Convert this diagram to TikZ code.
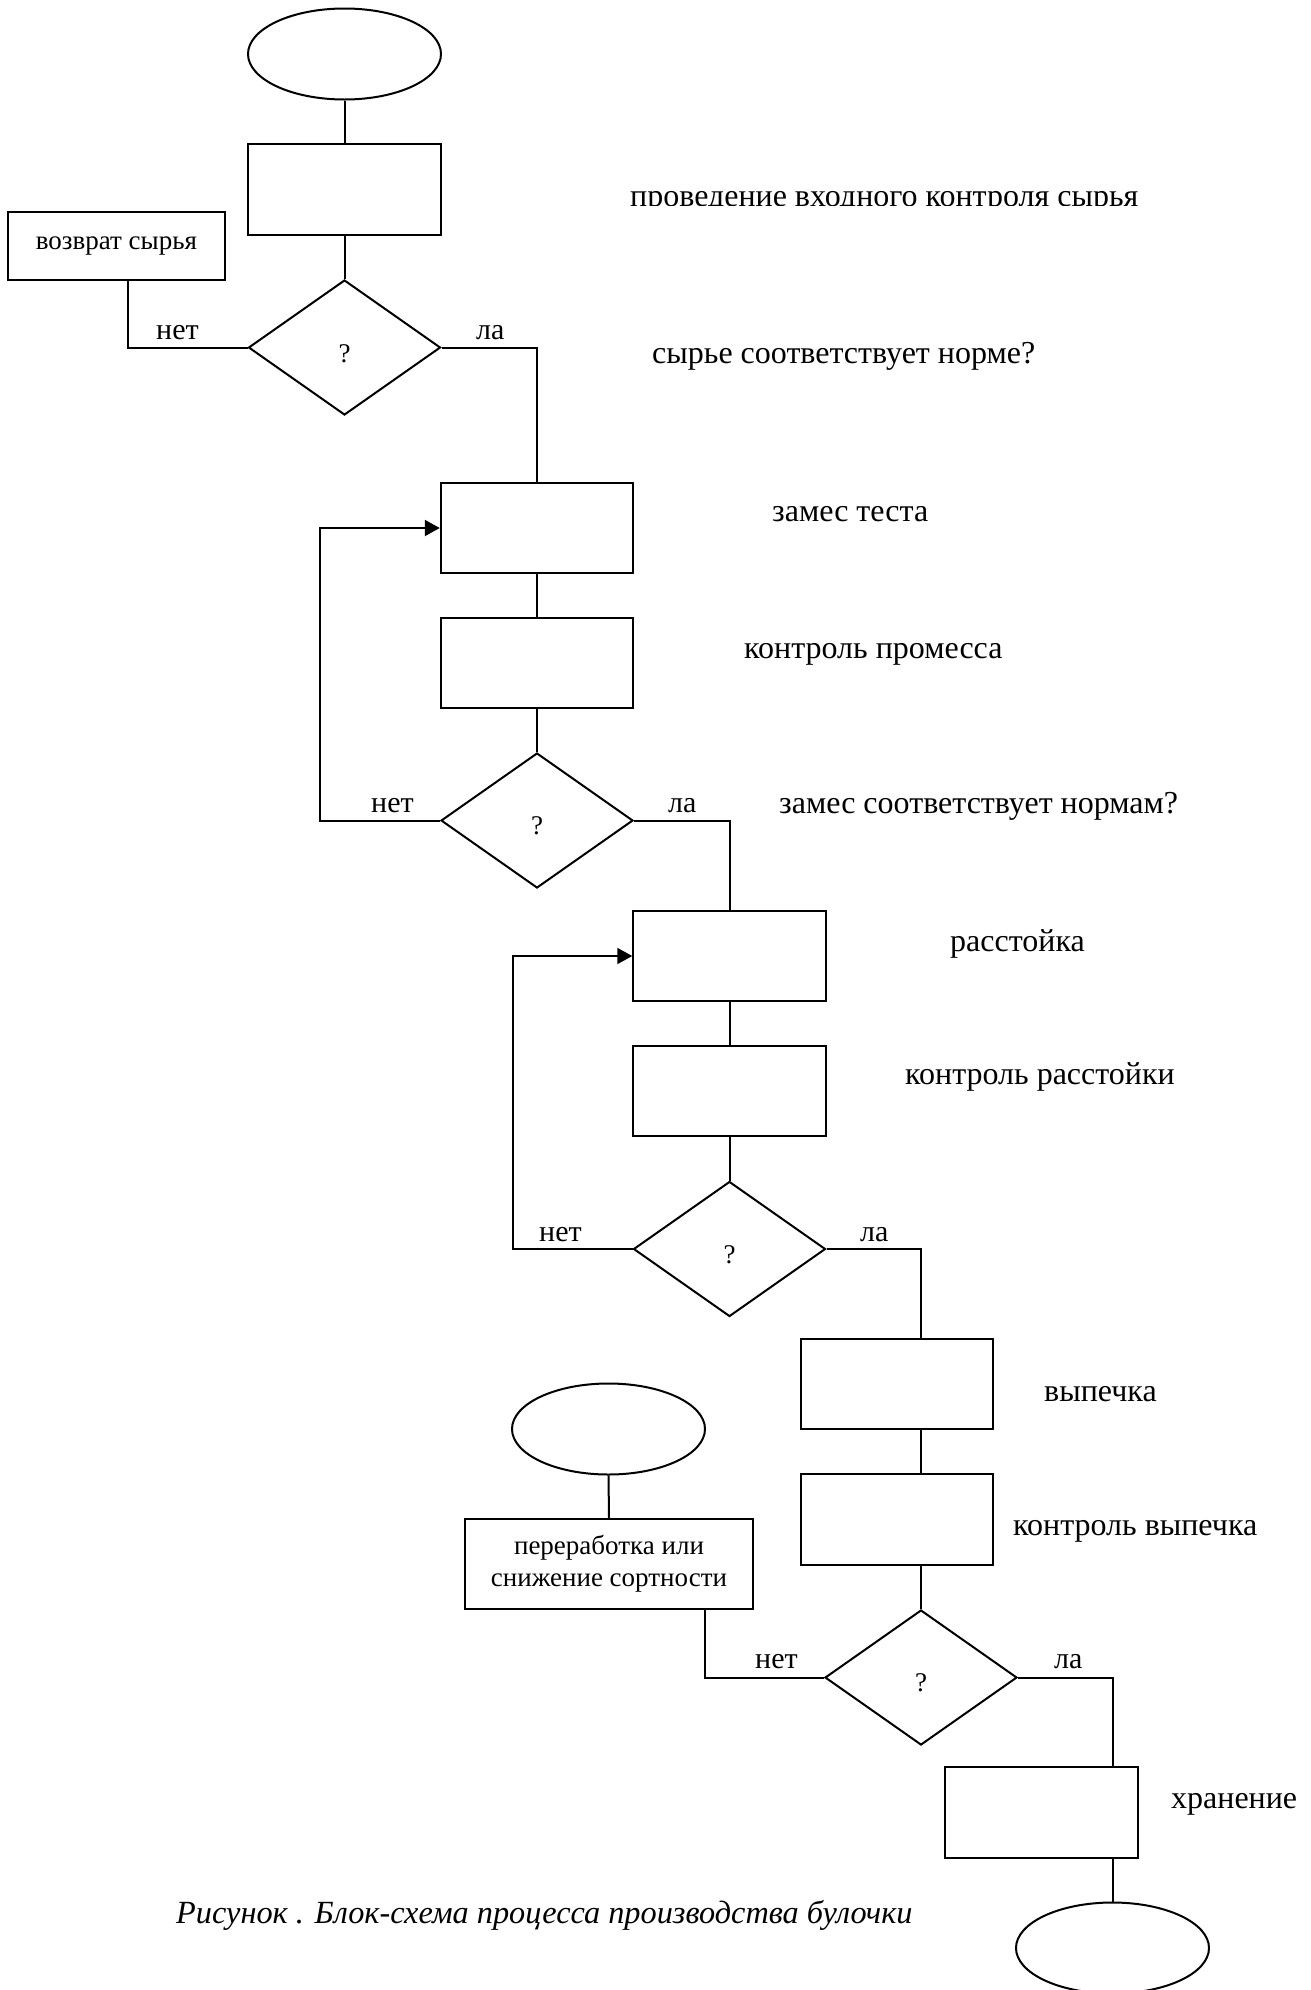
\documentclass[tikz,border=0pt]{standalone}
\usepackage{fontspec}
\setmainfont{Liberation Serif}
\usetikzlibrary{shapes.geometric,arrows.meta}
\begin{document}
\begin{tikzpicture}[x=1pt,y=-1pt,
  ln/.style={line width=2pt},
  box/.style={draw,line width=2pt,rectangle,minimum width=192.5pt,minimum height=90.5pt,inner sep=0pt},
  dia/.style={draw,line width=2pt,diamond,minimum width=192pt,minimum height=135pt,inner sep=0pt},
  term/.style={draw,line width=2pt,ellipse,minimum width=193pt,minimum height=91pt,inner sep=0pt},
  lbl/.style={anchor=base west,inner sep=0pt,font=\fontsize{32}{36}\selectfont},
  intext/.style={font=\fontsize{27}{32}\selectfont,align=center},
  yn/.style={anchor=base west,inner sep=0pt,font=\fontsize{30}{34}\selectfont},
  qm/.style={anchor=base,inner sep=0pt,font=\fontsize{27}{30}\selectfont},
  arr/.style={-{Triangle[length=15pt,width=16pt]}}
]
\fill[white] (0,0) rectangle (1311,1990);
\useasboundingbox (0,0) rectangle (1311,1990);

% ---- nodes ----
\node[term] (e1) at (344.5,54) {};
\node[box] (r1) at (344.5,189.5) {};
\node[box,minimum width=217pt,minimum height=68pt,intext] (r0) at (116.5,246) {возврат сырья};
\node[dia] (d1) at (344.5,347.5) {};
\node[qm] (q1) at (344.5,362) {?};

\node[box] (r3) at (537,528) {};
\node[box] (r4) at (537,663) {};
\node[dia] (d2) at (537,820.5) {};
\node[qm] (q2) at (537,834) {?};

\node[box] (r5) at (729.5,956) {};
\node[box] (r6) at (729.5,1091) {};
\node[dia] (d3) at (729.5,1249) {};
\node[qm] (q3) at (729.5,1263) {?};

\node[box] (r7) at (897,1384) {};
\node[box] (r8) at (897,1519.5) {};
\node[dia] (d4) at (921,1677.5) {};
\node[qm] (q4) at (921,1691) {?};

\node[term] (e2) at (608.5,1429) {};
\node[box,minimum width=288pt,minimum height=90pt,intext] (r9) at (609,1564) {переработка или\\снижение сортности};

\node[box] (r10) at (1041.5,1812.5) {};
\node[term] (e3) at (1112.5,1948) {};

\coordinate (x128) at (128,0);
\coordinate (x705) at (705,0);

% ---- side labels ----
\begin{scope}
\clip (0,0) rectangle (1311,205);
\node[lbl] (t1) at (630,206.5) {проведение входного контроля сырья};
\end{scope}
\node[lbl] (t2) at (652,363) {сырье соответствует норме?};
\node[lbl] (t3) at (772,521) {замес теста};
\node[lbl] (t4) at (744,658) {контроль промесса};
\node[lbl] (t5) at (779,813) {замес соответствует нормам?};
\node[lbl] (t6) at (950,951) {расстойка};
\node[lbl] (t7) at (905,1084) {контроль расстойки};
\node[lbl] (t8) at (1044,1401) {выпечка};
\node[lbl] (t9) at (1013,1535) {контроль выпечка};
\node[lbl] (t10) at (1171,1808) {хранение};
\node[lbl,font=\fontsize{32.3}{36}\selectfont\itshape] (cap) at (176,1923) {Рисунок . Блок-схема процесса производства булочки};

% ---- yes / no labels ----
\node[yn] (n1) at (156,339) {нет};
\node[yn] (y1) at (476,339) {ла};
\node[yn] (n2) at (371,812) {нет};
\node[yn] (y2) at (668,812) {ла};
\node[yn] (n3) at (539,1241) {нет};
\node[yn] (y3) at (860,1241) {ла};
\node[yn] (n4) at (755,1668) {нет};
\node[yn] (y4) at (1054,1668) {ла};

% ---- connectors ----
\draw[ln] (e1.south) -- (r1.north);
\draw[ln] (r1.south) -- (d1.north);
\draw[ln] (d1.west) -| (x128 |- r0.south);
\draw[ln] (d1.east) -| (r3.north);
\draw[ln] (r3.south) -- (r4.north);
\draw[ln] (r4.south) -- (d2.north);
\draw[ln,arr] (d2.west) -- ++(-120,0) |- (r3.west);
\draw[ln] (d2.east) -| (r5.north);
\draw[ln] (r5.south) -- (r6.north);
\draw[ln] (r6.south) -- (d3.north);
\draw[ln,arr] (d3.west) -- ++(-120,0) |- (r5.west);
\draw[ln] (d3.east) -| (d4 |- r7.north);
\draw[ln] (d4 |- r7.south) -- (d4 |- r8.north);
\draw[ln] (d4 |- r8.south) -- (d4.north);
\draw[ln] (e2.south) -- (r9.north);
\draw[ln] (d4.west) -| (x705 |- r9.south);
\draw[ln] (d4.east) -| (e3 |- r10.north);
\draw[ln] (e3 |- r10.south) -- (e3.north);
\end{tikzpicture}
\end{document}
